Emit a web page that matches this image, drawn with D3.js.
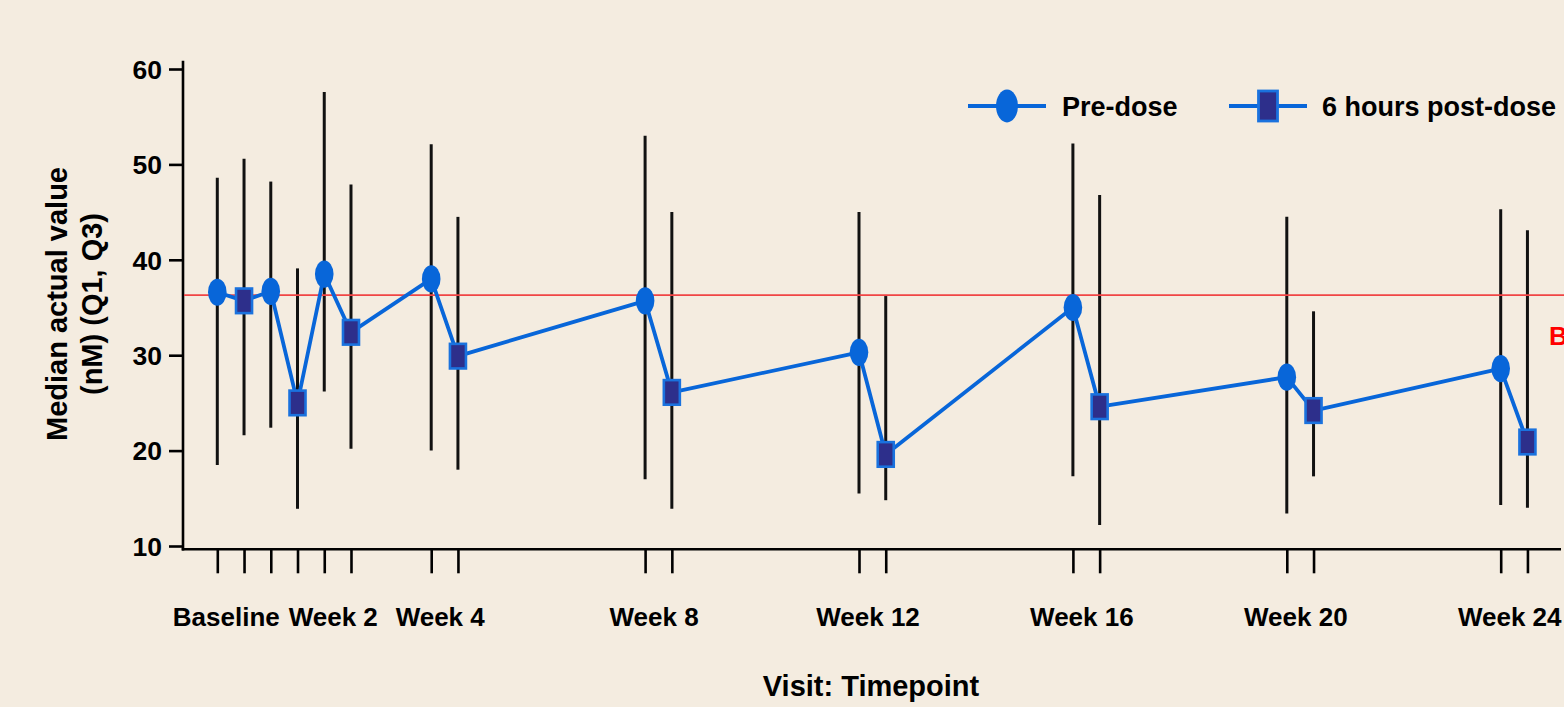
<!DOCTYPE html>
<html>
<head>
<meta charset="utf-8">
<script src="https://cdn.jsdelivr.net/npm/d3@7"></script>
<style>
  html, body { margin: 0; padding: 0; background: #f4ece0; overflow: hidden; }
  svg { display: block; }
  text { font-family: "Liberation Sans", Arial, sans-serif; font-weight: bold; fill: #000; }
</style>
</head>
<body>
<svg id="chart" width="1564" height="707"></svg>
<script>
// ---- data ----
const visits      = ["Baseline", "Week 1", "Week 2", "Week 4", "Week 8", "Week 12", "Week 16", "Week 20", "Week 24"];
const visitWeeks  = [0, 1, 2, 4, 8, 12, 16, 20, 24];
const preMedian   = [36.6, 36.7, 38.5, 38.0, 35.7, 30.3, 35.0, 27.7, 28.6];
const preQ1       = [18.5, 22.4, 26.2, 20.0, 17.0, 15.5, 17.3, 13.4, 14.3];
const preQ3       = [48.6, 48.2, 57.6, 52.1, 53.0, 45.0, 52.2, 44.5, 45.3];
const postMedian  = [35.7, 25.0, 32.4, 29.9, 26.1, 19.6, 24.6, 24.2, 20.9];
const postQ1      = [21.6, 13.9, 20.2, 18.0, 13.9, 14.8, 12.2, 17.3, 14.0];
const postQ3      = [50.6, 39.1, 47.9, 44.5, 45.0, 36.2, 46.8, 34.6, 43.1];
const postOffset  = 0.5;          // post-dose plotted half a week after pre-dose
const tickLabels  = ["Baseline", "Week 2", "Week 4", "Week 8", "Week 12", "Week 16", "Week 20", "Week 24"];
const tickWeeks   = [0, 2, 4, 8, 12, 16, 20, 24];
const yTicks      = [10, 20, 30, 40, 50, 60];
const baselineRef = 36.3;
const seriesNames = ["Pre-dose", "6 hours post-dose"];

// ---- styles ----
const BLUE = "#0866d9", NAVY = "#2d2f8b", SQ_STROKE = "#1a72de", RED = "#f04545";

const svg = d3.select("#chart");
const x = d3.scaleLinear().domain([0, 24]).range([217.3, 1500.7]);
const y = d3.scaleLinear().domain([10, 60]).range([546, 69]);
const xLeft = 183, xRight = 1561;
const yBottom = 549.3, yTop = 60.7;

// combined sequence of points in time order
const pts = [];
visitWeeks.forEach((w, i) => {
  pts.push({t: w, v: preMedian[i], q1: preQ1[i], q3: preQ3[i], type: "pre"});
  pts.push({t: w + postOffset, v: postMedian[i], q1: postQ1[i], q3: postQ3[i], type: "post"});
});

// y axis
const yAxis = svg.append("g").attr("transform", `translate(${xLeft},0)`)
  .call(d3.axisLeft(y).tickValues(yTicks).tickSize(14).tickPadding(7).tickFormat(d3.format("d")));
yAxis.select(".domain").remove();
yAxis.selectAll(".tick line").attr("stroke", "#000").attr("stroke-width", 2.6);
yAxis.selectAll(".tick text").style("font-size", "26.5px").attr("dy", "0.35em");
svg.append("line").attr("x1", xLeft).attr("x2", xLeft).attr("y1", yTop).attr("y2", yBottom + 1.3)
  .attr("stroke", "#000").attr("stroke-width", 2.6);

// x axis
const xAxis = svg.append("g").attr("transform", `translate(0,${yBottom})`)
  .call(d3.axisBottom(x).tickValues(pts.map(p => p.t)).tickSize(24).tickFormat(""));
xAxis.select(".domain").remove();
xAxis.selectAll(".tick line").attr("stroke", "#000").attr("stroke-width", 2.6);
svg.append("line").attr("x1", xLeft - 1.3).attr("x2", xRight).attr("y1", yBottom).attr("y2", yBottom)
  .attr("stroke", "#000").attr("stroke-width", 2.6);

// x tick labels
svg.append("g").selectAll("text").data(tickLabels).join("text")
  .attr("x", (d, i) => x(tickWeeks[i]) + 9)
  .attr("y", 626)
  .attr("text-anchor", "middle")
  .style("font-size", "26px")
  .text(d => d);

// axis titles
svg.append("text").attr("x", 871).attr("y", 696).attr("text-anchor", "middle")
  .style("font-size", "29px").text("Visit: Timepoint");
const yt = svg.append("text").attr("transform", "translate(67,304) rotate(-90)")
  .attr("text-anchor", "middle").style("font-size", "29px");
yt.append("tspan").attr("x", 0).attr("y", 0).text("Median actual value");
yt.append("tspan").attr("x", 0).attr("y", 34.5).text("(nM) (Q1, Q3)");

// error bars
svg.append("g").selectAll("line").data(pts).join("line")
  .attr("x1", d => x(d.t)).attr("x2", d => x(d.t))
  .attr("y1", d => y(d.q3)).attr("y2", d => y(d.q1))
  .attr("stroke", "#111").attr("stroke-width", 3);

// baseline reference line
svg.append("line").attr("x1", xLeft + 1).attr("x2", 1564)
  .attr("y1", y(baselineRef)).attr("y2", y(baselineRef))
  .attr("stroke", RED).attr("stroke-width", 1.6);
svg.append("text").attr("x", 1549).attr("y", 345).style("fill", "#ff0000")
  .style("font-size", "26px").text("Baseline");

// connecting line
svg.append("path").datum(pts)
  .attr("d", d3.line().x(d => x(d.t)).y(d => y(d.v)))
  .attr("fill", "none").attr("stroke", BLUE).attr("stroke-width", 3.8).attr("stroke-linejoin", "round");

// markers
svg.append("g").selectAll("ellipse").data(pts.filter(p => p.type === "pre")).join("ellipse")
  .attr("cx", d => x(d.t)).attr("cy", d => y(d.v))
  .attr("rx", 9.3).attr("ry", 13.6).attr("fill", BLUE);
svg.append("g").selectAll("rect").data(pts.filter(p => p.type === "post")).join("rect")
  .attr("x", d => x(d.t) - 8).attr("y", d => y(d.v) - 12.3)
  .attr("width", 16).attr("height", 24.6)
  .attr("fill", NAVY).attr("stroke", SQ_STROKE).attr("stroke-width", 2.6);

// legend
const lg = svg.append("g");
lg.append("line").attr("x1", 968).attr("x2", 1046).attr("y1", 106).attr("y2", 106)
  .attr("stroke", BLUE).attr("stroke-width", 3.8);
lg.append("ellipse").attr("cx", 1007).attr("cy", 106).attr("rx", 11).attr("ry", 16.4).attr("fill", BLUE);
lg.append("text").attr("x", 1062).attr("y", 115.5).style("font-size", "27px").text(seriesNames[0]);
lg.append("line").attr("x1", 1229).attr("x2", 1307).attr("y1", 106).attr("y2", 106)
  .attr("stroke", BLUE).attr("stroke-width", 3.8);
lg.append("rect").attr("x", 1258.5).attr("y", 91).attr("width", 19).attr("height", 30)
  .attr("fill", NAVY).attr("stroke", SQ_STROKE).attr("stroke-width", 2.8);
lg.append("text").attr("x", 1322).attr("y", 115.5).style("font-size", "27px").text(seriesNames[1]);
</script>
</body>
</html>
